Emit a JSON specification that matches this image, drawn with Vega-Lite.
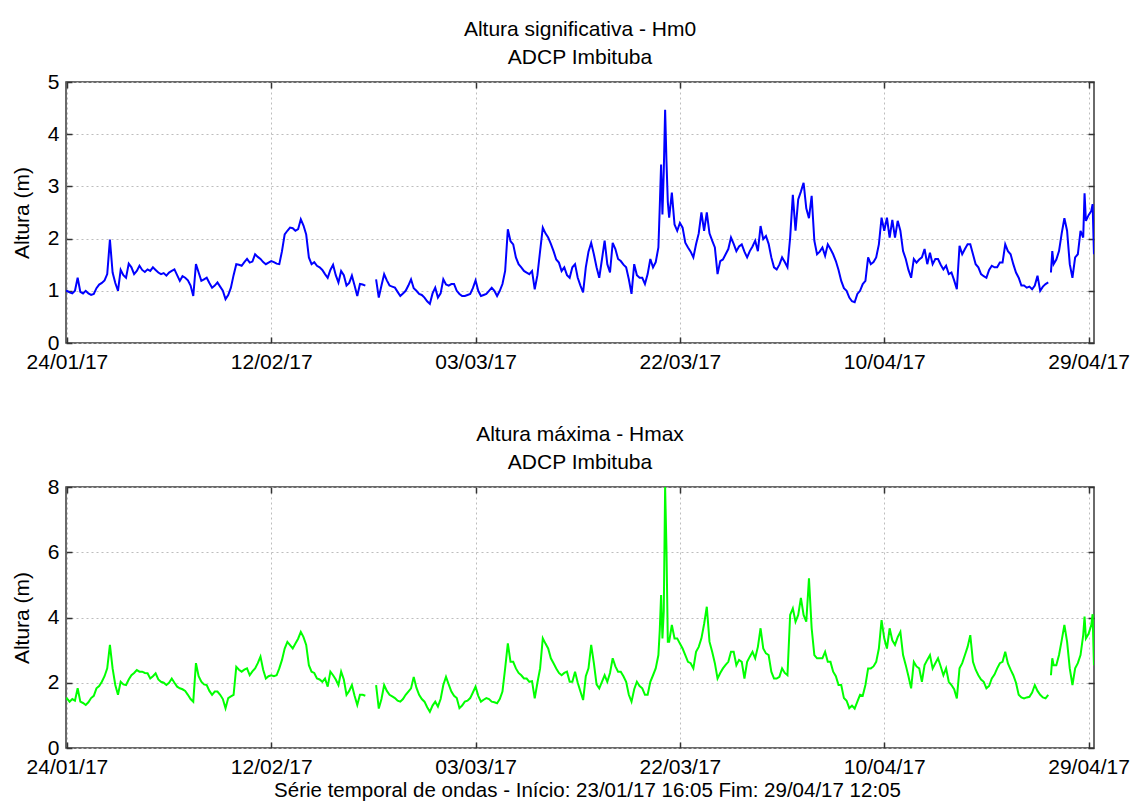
{
  "$schema": "https://vega.github.io/schema/vega-lite/v6.json",
  "background": "white",
  "padding": {"left": 10, "top": 18, "right": 5, "bottom": 5},
  "config": {
    "font": "Liberation Sans",
    "view": {"stroke": "#3a3a3a", "strokeWidth": 1.5},
    "axis": {
      "labelFontSize": 21, "titleFontSize": 21, "titleFontWeight": "normal",
      "labelColor": "#000000", "titleColor": "#000000",
      "gridColor": "#bdbdbd", "gridDash": [2, 3], "gridWidth": 1,
      "domain": false, "tickColor": "#333333", "tickSize": -6, "tickWidth": 1.5
    },
    "axisX": {"labelPadding": 14},
    "axisY": {"labelPadding": 13, "titlePadding": 15},
    "title": {"fontSize": 21, "fontWeight": "normal", "color": "#000000", "lineHeight": 28}
  },
  "data": {"values": [
    {"t":"2017-01-23T18:00","h":0.98,"m":1.5},
    {"t":"2017-01-24T00:00","h":1.0,"m":1.52},{"t":"2017-01-24T06:00","h":0.97,"m":1.42},{"t":"2017-01-24T12:00","h":0.95,"m":1.5},{"t":"2017-01-24T18:00","h":1.0,"m":1.45},
    {"t":"2017-01-25T00:00","h":1.25,"m":1.83},{"t":"2017-01-25T06:00","h":0.98,"m":1.42},{"t":"2017-01-25T12:00","h":0.95,"m":1.38},{"t":"2017-01-25T18:00","h":1.0,"m":1.32},
    {"t":"2017-01-26T00:00","h":0.95,"m":1.4},{"t":"2017-01-26T06:00","h":0.92,"m":1.53},{"t":"2017-01-26T12:00","h":0.94,"m":1.6},{"t":"2017-01-26T18:00","h":1.05,"m":1.83},
    {"t":"2017-01-27T00:00","h":1.12,"m":1.9},{"t":"2017-01-27T06:00","h":1.15,"m":2.03},{"t":"2017-01-27T12:00","h":1.2,"m":2.2},{"t":"2017-01-27T18:00","h":1.32,"m":2.44},
    {"t":"2017-01-28T00:00","h":1.98,"m":3.16},{"t":"2017-01-28T06:00","h":1.35,"m":2.44},{"t":"2017-01-28T12:00","h":1.15,"m":1.93},{"t":"2017-01-28T18:00","h":1.0,"m":1.63},
    {"t":"2017-01-29T00:00","h":1.4,"m":2.03},{"t":"2017-01-29T06:00","h":1.3,"m":1.95},{"t":"2017-01-29T12:00","h":1.25,"m":1.93},{"t":"2017-01-29T18:00","h":1.52,"m":2.1},
    {"t":"2017-01-30T00:00","h":1.45,"m":2.23},{"t":"2017-01-30T06:00","h":1.32,"m":2.3},{"t":"2017-01-30T12:00","h":1.38,"m":2.39},{"t":"2017-01-30T18:00","h":1.48,"m":2.34},
    {"t":"2017-01-31T00:00","h":1.4,"m":2.34},{"t":"2017-01-31T06:00","h":1.36,"m":2.3},{"t":"2017-01-31T12:00","h":1.41,"m":2.29},{"t":"2017-01-31T18:00","h":1.38,"m":2.13},
    {"t":"2017-02-01T00:00","h":1.45,"m":2.2},{"t":"2017-02-01T06:00","h":1.4,"m":2.29},{"t":"2017-02-01T12:00","h":1.35,"m":2.1},{"t":"2017-02-01T18:00","h":1.32,"m":2.03},
    {"t":"2017-02-02T00:00","h":1.34,"m":2.0},{"t":"2017-02-02T06:00","h":1.29,"m":1.93},{"t":"2017-02-02T12:00","h":1.35,"m":2.0},{"t":"2017-02-02T18:00","h":1.38,"m":2.13},
    {"t":"2017-02-03T00:00","h":1.41,"m":2.0},{"t":"2017-02-03T06:00","h":1.3,"m":1.88},{"t":"2017-02-03T12:00","h":1.19,"m":1.83},{"t":"2017-02-03T18:00","h":1.28,"m":1.8},
    {"t":"2017-02-04T00:00","h":1.25,"m":1.75},{"t":"2017-02-04T06:00","h":1.2,"m":1.63},{"t":"2017-02-04T12:00","h":1.1,"m":1.5},{"t":"2017-02-04T18:00","h":0.9,"m":1.42},
    {"t":"2017-02-05T00:00","h":1.51,"m":2.6},{"t":"2017-02-05T06:00","h":1.35,"m":2.2},{"t":"2017-02-05T12:00","h":1.19,"m":2.03},{"t":"2017-02-05T18:00","h":1.22,"m":1.95},
    {"t":"2017-02-06T00:00","h":1.25,"m":1.93},{"t":"2017-02-06T06:00","h":1.15,"m":1.75},{"t":"2017-02-06T12:00","h":1.06,"m":1.63},{"t":"2017-02-06T18:00","h":1.1,"m":1.73},
    {"t":"2017-02-07T00:00","h":1.16,"m":1.73},{"t":"2017-02-07T06:00","h":1.08,"m":1.63},{"t":"2017-02-07T12:00","h":1.0,"m":1.5},{"t":"2017-02-07T18:00","h":0.84,"m":1.22},
    {"t":"2017-02-08T00:00","h":0.92,"m":1.53},{"t":"2017-02-08T06:00","h":1.06,"m":1.58},{"t":"2017-02-08T12:00","h":1.3,"m":1.63},{"t":"2017-02-08T18:00","h":1.51,"m":2.49},
    {"t":"2017-02-09T00:00","h":1.5,"m":2.4},{"t":"2017-02-09T06:00","h":1.48,"m":2.34},{"t":"2017-02-09T12:00","h":1.55,"m":2.4},{"t":"2017-02-09T18:00","h":1.61,"m":2.44},
    {"t":"2017-02-10T00:00","h":1.54,"m":2.23},{"t":"2017-02-10T06:00","h":1.56,"m":2.35},{"t":"2017-02-10T12:00","h":1.7,"m":2.44},{"t":"2017-02-10T18:00","h":1.65,"m":2.6},
    {"t":"2017-02-11T00:00","h":1.61,"m":2.8},{"t":"2017-02-11T06:00","h":1.55,"m":2.4},{"t":"2017-02-11T12:00","h":1.51,"m":2.13},{"t":"2017-02-11T18:00","h":1.54,"m":2.2},
    {"t":"2017-02-12T00:00","h":1.57,"m":2.23},{"t":"2017-02-12T06:00","h":1.55,"m":2.2},{"t":"2017-02-12T12:00","h":1.52,"m":2.23},{"t":"2017-02-12T18:00","h":1.51,"m":2.44},
    {"t":"2017-02-13T00:00","h":1.76,"m":2.7},{"t":"2017-02-13T06:00","h":2.08,"m":3.05},{"t":"2017-02-13T12:00","h":2.15,"m":3.25},{"t":"2017-02-13T18:00","h":2.21,"m":3.15},
    {"t":"2017-02-14T00:00","h":2.2,"m":3.05},{"t":"2017-02-14T06:00","h":2.15,"m":3.2},{"t":"2017-02-14T12:00","h":2.18,"m":3.35},{"t":"2017-02-14T18:00","h":2.37,"m":3.56},
    {"t":"2017-02-15T00:00","h":2.25,"m":3.4},{"t":"2017-02-15T06:00","h":2.08,"m":3.16},{"t":"2017-02-15T12:00","h":1.64,"m":2.54},{"t":"2017-02-15T18:00","h":1.51,"m":2.34},
    {"t":"2017-02-16T00:00","h":1.55,"m":2.3},{"t":"2017-02-16T06:00","h":1.48,"m":2.13},{"t":"2017-02-16T12:00","h":1.45,"m":2.1},{"t":"2017-02-16T18:00","h":1.4,"m":2.03},
    {"t":"2017-02-17T00:00","h":1.32,"m":2.13},{"t":"2017-02-17T06:00","h":1.25,"m":1.88},{"t":"2017-02-17T12:00","h":1.4,"m":2.34},{"t":"2017-02-17T18:00","h":1.5,"m":2.23},
    {"t":"2017-02-18T00:00","h":1.3,"m":2.1},{"t":"2017-02-18T06:00","h":1.16,"m":1.93},{"t":"2017-02-18T12:00","h":1.38,"m":2.34},{"t":"2017-02-18T18:00","h":1.3,"m":2.1},
    {"t":"2017-02-19T00:00","h":1.1,"m":1.63},{"t":"2017-02-19T06:00","h":1.15,"m":1.75},{"t":"2017-02-19T12:00","h":1.29,"m":1.93},{"t":"2017-02-19T18:00","h":1.1,"m":1.6},
    {"t":"2017-02-20T00:00","h":0.9,"m":1.32},{"t":"2017-02-20T06:00","h":1.13,"m":1.63},{"t":"2017-02-20T12:00","h":1.12,"m":1.63},{"t":"2017-02-20T18:00","h":1.1,"m":1.6},
    {"t":"2017-02-21T00:00","h":null,"m":null},{"t":"2017-02-21T06:00","h":null,"m":null},{"t":"2017-02-21T12:00","h":null,"m":null},{"t":"2017-02-21T18:00","h":1.22,"m":1.93},
    {"t":"2017-02-22T00:00","h":0.87,"m":1.21},{"t":"2017-02-22T06:00","h":1.1,"m":1.5},{"t":"2017-02-22T12:00","h":1.32,"m":1.93},{"t":"2017-02-22T18:00","h":1.2,"m":1.75},
    {"t":"2017-02-23T00:00","h":1.1,"m":1.63},{"t":"2017-02-23T06:00","h":1.08,"m":1.58},{"t":"2017-02-23T12:00","h":1.06,"m":1.53},{"t":"2017-02-23T18:00","h":0.98,"m":1.45},
    {"t":"2017-02-24T00:00","h":0.9,"m":1.42},{"t":"2017-02-24T06:00","h":0.95,"m":1.5},{"t":"2017-02-24T12:00","h":1.0,"m":1.63},{"t":"2017-02-24T18:00","h":1.1,"m":1.73},
    {"t":"2017-02-25T00:00","h":1.22,"m":1.83},{"t":"2017-02-25T06:00","h":1.05,"m":2.18},{"t":"2017-02-25T12:00","h":1.0,"m":1.85},{"t":"2017-02-25T18:00","h":0.94,"m":1.63},
    {"t":"2017-02-26T00:00","h":0.92,"m":1.5},{"t":"2017-02-26T06:00","h":0.87,"m":1.42},{"t":"2017-02-26T12:00","h":0.8,"m":1.25},{"t":"2017-02-26T18:00","h":0.75,"m":1.11},
    {"t":"2017-02-27T00:00","h":0.95,"m":1.3},{"t":"2017-02-27T06:00","h":1.06,"m":1.42},{"t":"2017-02-27T12:00","h":0.87,"m":1.27},{"t":"2017-02-27T18:00","h":0.95,"m":1.5},
    {"t":"2017-02-28T00:00","h":1.22,"m":1.93},{"t":"2017-02-28T06:00","h":1.12,"m":2.18},{"t":"2017-02-28T12:00","h":1.1,"m":1.95},{"t":"2017-02-28T18:00","h":1.13,"m":1.73},
    {"t":"2017-03-01T00:00","h":1.13,"m":1.6},{"t":"2017-03-01T06:00","h":1.0,"m":1.53},{"t":"2017-03-01T12:00","h":0.94,"m":1.22},{"t":"2017-03-01T18:00","h":0.9,"m":1.3},
    {"t":"2017-03-02T00:00","h":0.9,"m":1.42},{"t":"2017-03-02T06:00","h":0.92,"m":1.45},{"t":"2017-03-02T12:00","h":0.94,"m":1.53},{"t":"2017-03-02T18:00","h":1.05,"m":1.7},
    {"t":"2017-03-03T00:00","h":1.2,"m":1.88},{"t":"2017-03-03T06:00","h":1.0,"m":1.6},{"t":"2017-03-03T12:00","h":0.9,"m":1.42},{"t":"2017-03-03T18:00","h":0.92,"m":1.48},
    {"t":"2017-03-04T00:00","h":0.94,"m":1.53},{"t":"2017-03-04T06:00","h":1.0,"m":1.5},{"t":"2017-03-04T12:00","h":1.06,"m":1.42},{"t":"2017-03-04T18:00","h":1.0,"m":1.4},
    {"t":"2017-03-05T00:00","h":0.9,"m":1.37},{"t":"2017-03-05T06:00","h":1.0,"m":1.5},{"t":"2017-03-05T12:00","h":1.13,"m":1.73},{"t":"2017-03-05T18:00","h":1.38,"m":2.44},
    {"t":"2017-03-06T00:00","h":2.18,"m":3.21},{"t":"2017-03-06T06:00","h":1.95,"m":2.64},{"t":"2017-03-06T12:00","h":1.89,"m":2.64},{"t":"2017-03-06T18:00","h":1.64,"m":2.44},
    {"t":"2017-03-07T00:00","h":1.51,"m":2.3},{"t":"2017-03-07T06:00","h":1.45,"m":2.23},{"t":"2017-03-07T12:00","h":1.38,"m":2.13},{"t":"2017-03-07T18:00","h":1.35,"m":2.13},
    {"t":"2017-03-08T00:00","h":1.32,"m":2.03},{"t":"2017-03-08T06:00","h":1.38,"m":2.05},{"t":"2017-03-08T12:00","h":1.03,"m":1.52},{"t":"2017-03-08T18:00","h":1.3,"m":2.0},
    {"t":"2017-03-09T00:00","h":1.76,"m":2.44},{"t":"2017-03-09T06:00","h":2.21,"m":3.36},{"t":"2017-03-09T12:00","h":2.1,"m":3.2},{"t":"2017-03-09T18:00","h":2.02,"m":3.05},
    {"t":"2017-03-10T00:00","h":1.9,"m":2.75},{"t":"2017-03-10T06:00","h":1.76,"m":2.6},{"t":"2017-03-10T12:00","h":1.6,"m":2.44},{"t":"2017-03-10T18:00","h":1.54,"m":2.3},
    {"t":"2017-03-11T00:00","h":1.38,"m":2.23},{"t":"2017-03-11T06:00","h":1.45,"m":2.3},{"t":"2017-03-11T12:00","h":1.3,"m":2.34},{"t":"2017-03-11T18:00","h":1.25,"m":2.03},
    {"t":"2017-03-12T00:00","h":1.45,"m":2.03},{"t":"2017-03-12T06:00","h":1.51,"m":2.34},{"t":"2017-03-12T12:00","h":1.25,"m":2.0},{"t":"2017-03-12T18:00","h":1.1,"m":1.73},
    {"t":"2017-03-13T00:00","h":0.97,"m":1.47},{"t":"2017-03-13T06:00","h":1.45,"m":2.2},{"t":"2017-03-13T12:00","h":1.75,"m":2.44},{"t":"2017-03-13T18:00","h":1.92,"m":3.16},
    {"t":"2017-03-14T00:00","h":1.7,"m":2.6},{"t":"2017-03-14T06:00","h":1.45,"m":1.95},{"t":"2017-03-14T12:00","h":1.25,"m":1.83},{"t":"2017-03-14T18:00","h":1.6,"m":2.03},
    {"t":"2017-03-15T00:00","h":1.96,"m":2.23},{"t":"2017-03-15T06:00","h":1.51,"m":2.03},{"t":"2017-03-15T12:00","h":1.35,"m":2.3},{"t":"2017-03-15T18:00","h":1.92,"m":2.75},
    {"t":"2017-03-16T00:00","h":1.8,"m":2.5},{"t":"2017-03-16T06:00","h":1.61,"m":2.34},{"t":"2017-03-16T12:00","h":1.57,"m":2.34},{"t":"2017-03-16T18:00","h":1.5,"m":2.2},
    {"t":"2017-03-17T00:00","h":1.45,"m":2.03},{"t":"2017-03-17T06:00","h":1.22,"m":1.63},{"t":"2017-03-17T12:00","h":0.94,"m":1.42},{"t":"2017-03-17T18:00","h":1.51,"m":1.8},
    {"t":"2017-03-18T00:00","h":1.3,"m":2.03},{"t":"2017-03-18T06:00","h":1.25,"m":1.9},{"t":"2017-03-18T12:00","h":1.25,"m":1.83},{"t":"2017-03-18T18:00","h":1.13,"m":1.63},
    {"t":"2017-03-19T00:00","h":1.32,"m":1.63},{"t":"2017-03-19T06:00","h":1.61,"m":2.03},{"t":"2017-03-19T12:00","h":1.45,"m":2.23},{"t":"2017-03-19T18:00","h":1.55,"m":2.44},
    {"t":"2017-03-20T00:00","h":1.83,"m":2.85},{"t":"2017-03-20T03:00","h":2.6,"m":3.6},{"t":"2017-03-20T06:00","h":3.42,"m":4.69},{"t":"2017-03-20T09:00","h":2.46,"m":3.36},
    {"t":"2017-03-20T12:00","h":3.3,"m":4.2},{"t":"2017-03-20T15:00","h":4.47,"m":8.0},{"t":"2017-03-20T18:00","h":3.48,"m":6.1},{"t":"2017-03-20T21:00","h":2.7,"m":3.26},
    {"t":"2017-03-21T00:00","h":2.4,"m":3.26},{"t":"2017-03-21T06:00","h":2.88,"m":3.77},{"t":"2017-03-21T12:00","h":2.27,"m":3.36},{"t":"2017-03-21T18:00","h":2.15,"m":3.36},
    {"t":"2017-03-22T00:00","h":2.3,"m":3.2},{"t":"2017-03-22T06:00","h":2.21,"m":3.05},{"t":"2017-03-22T12:00","h":1.92,"m":2.85},{"t":"2017-03-22T18:00","h":1.83,"m":2.64},
    {"t":"2017-03-23T00:00","h":1.75,"m":2.6},{"t":"2017-03-23T06:00","h":1.64,"m":2.44},{"t":"2017-03-23T12:00","h":1.89,"m":2.95},{"t":"2017-03-23T18:00","h":2.1,"m":3.1},
    {"t":"2017-03-24T00:00","h":2.5,"m":3.36},{"t":"2017-03-24T06:00","h":2.15,"m":3.8},{"t":"2017-03-24T12:00","h":2.5,"m":4.33},{"t":"2017-03-24T18:00","h":2.1,"m":3.26},
    {"t":"2017-03-25T00:00","h":1.96,"m":2.95},{"t":"2017-03-25T06:00","h":1.83,"m":2.6},{"t":"2017-03-25T12:00","h":1.32,"m":2.13},{"t":"2017-03-25T18:00","h":1.57,"m":2.3},
    {"t":"2017-03-26T00:00","h":1.6,"m":2.44},{"t":"2017-03-26T06:00","h":1.7,"m":2.55},{"t":"2017-03-26T12:00","h":1.8,"m":2.64},{"t":"2017-03-26T18:00","h":2.02,"m":2.95},
    {"t":"2017-03-27T00:00","h":1.9,"m":2.95},{"t":"2017-03-27T06:00","h":1.76,"m":2.54},{"t":"2017-03-27T12:00","h":1.85,"m":2.7},{"t":"2017-03-27T18:00","h":1.89,"m":2.64},
    {"t":"2017-03-28T00:00","h":1.75,"m":2.13},{"t":"2017-03-28T06:00","h":1.64,"m":2.64},{"t":"2017-03-28T12:00","h":1.76,"m":2.8},{"t":"2017-03-28T18:00","h":1.85,"m":2.95},
    {"t":"2017-03-29T00:00","h":1.96,"m":2.75},{"t":"2017-03-29T06:00","h":1.76,"m":3.1},{"t":"2017-03-29T12:00","h":2.24,"m":3.67},{"t":"2017-03-29T18:00","h":1.99,"m":3.05},
    {"t":"2017-03-30T00:00","h":2.05,"m":2.9},{"t":"2017-03-30T06:00","h":1.9,"m":2.85},{"t":"2017-03-30T12:00","h":1.64,"m":2.34},{"t":"2017-03-30T18:00","h":1.45,"m":2.13},
    {"t":"2017-03-31T00:00","h":1.41,"m":2.13},{"t":"2017-03-31T06:00","h":1.5,"m":2.18},{"t":"2017-03-31T12:00","h":1.64,"m":2.44},{"t":"2017-03-31T18:00","h":1.55,"m":2.3},
    {"t":"2017-04-01T00:00","h":1.45,"m":2.23},{"t":"2017-04-01T06:00","h":2.02,"m":4.08},{"t":"2017-04-01T12:00","h":2.84,"m":4.28},{"t":"2017-04-01T18:00","h":2.15,"m":3.87},
    {"t":"2017-04-02T00:00","h":2.75,"m":4.08},{"t":"2017-04-02T06:00","h":2.9,"m":4.6},{"t":"2017-04-02T12:00","h":3.07,"m":4.08},{"t":"2017-04-02T18:00","h":2.58,"m":3.87},
    {"t":"2017-04-03T00:00","h":2.39,"m":5.2},{"t":"2017-04-03T06:00","h":2.82,"m":3.67},{"t":"2017-04-03T12:00","h":1.96,"m":2.85},{"t":"2017-04-03T18:00","h":1.7,"m":2.75},
    {"t":"2017-04-04T00:00","h":1.75,"m":2.75},{"t":"2017-04-04T06:00","h":1.83,"m":2.75},{"t":"2017-04-04T12:00","h":1.67,"m":2.95},{"t":"2017-04-04T18:00","h":1.89,"m":2.64},
    {"t":"2017-04-05T00:00","h":1.8,"m":2.64},{"t":"2017-04-05T06:00","h":1.7,"m":2.34},{"t":"2017-04-05T12:00","h":1.57,"m":2.2},{"t":"2017-04-05T18:00","h":1.4,"m":1.93},
    {"t":"2017-04-06T00:00","h":1.19,"m":1.93},{"t":"2017-04-06T06:00","h":1.05,"m":1.53},{"t":"2017-04-06T12:00","h":1.0,"m":1.45},{"t":"2017-04-06T18:00","h":0.87,"m":1.22},
    {"t":"2017-04-07T00:00","h":0.8,"m":1.3},{"t":"2017-04-07T06:00","h":0.78,"m":1.21},{"t":"2017-04-07T12:00","h":0.94,"m":1.42},{"t":"2017-04-07T18:00","h":1.0,"m":1.63},
    {"t":"2017-04-08T00:00","h":1.13,"m":1.6},{"t":"2017-04-08T06:00","h":1.19,"m":1.93},{"t":"2017-04-08T12:00","h":1.64,"m":2.44},{"t":"2017-04-08T18:00","h":1.51,"m":2.44},
    {"t":"2017-04-09T00:00","h":1.55,"m":2.5},{"t":"2017-04-09T06:00","h":1.64,"m":2.64},{"t":"2017-04-09T12:00","h":1.89,"m":3.05},{"t":"2017-04-09T18:00","h":2.4,"m":3.92},
    {"t":"2017-04-10T00:00","h":2.15,"m":3.36},{"t":"2017-04-10T06:00","h":2.4,"m":3.05},{"t":"2017-04-10T12:00","h":2.02,"m":3.67},{"t":"2017-04-10T18:00","h":2.36,"m":3.3},
    {"t":"2017-04-11T00:00","h":2.02,"m":3.16},{"t":"2017-04-11T06:00","h":2.34,"m":3.4},{"t":"2017-04-11T12:00","h":2.15,"m":3.56},{"t":"2017-04-11T18:00","h":1.76,"m":2.85},
    {"t":"2017-04-12T00:00","h":1.61,"m":2.54},{"t":"2017-04-12T06:00","h":1.4,"m":2.2},{"t":"2017-04-12T12:00","h":1.25,"m":1.83},{"t":"2017-04-12T18:00","h":1.61,"m":2.64},
    {"t":"2017-04-13T00:00","h":1.54,"m":2.5},{"t":"2017-04-13T06:00","h":1.6,"m":2.44},{"t":"2017-04-13T12:00","h":1.64,"m":2.03},{"t":"2017-04-13T18:00","h":1.8,"m":2.54},
    {"t":"2017-04-14T00:00","h":1.51,"m":2.7},{"t":"2017-04-14T06:00","h":1.73,"m":2.85},{"t":"2017-04-14T12:00","h":1.51,"m":2.44},{"t":"2017-04-14T18:00","h":1.61,"m":2.6},
    {"t":"2017-04-15T00:00","h":1.61,"m":2.75},{"t":"2017-04-15T06:00","h":1.5,"m":2.5},{"t":"2017-04-15T12:00","h":1.41,"m":2.23},{"t":"2017-04-15T18:00","h":1.48,"m":2.44},
    {"t":"2017-04-16T00:00","h":1.32,"m":2.03},{"t":"2017-04-16T06:00","h":1.35,"m":1.93},{"t":"2017-04-16T12:00","h":1.2,"m":1.8},{"t":"2017-04-16T18:00","h":1.03,"m":1.52},
    {"t":"2017-04-17T00:00","h":1.86,"m":2.44},{"t":"2017-04-17T06:00","h":1.7,"m":2.6},{"t":"2017-04-17T12:00","h":1.8,"m":2.85},{"t":"2017-04-17T18:00","h":1.89,"m":3.1},
    {"t":"2017-04-18T00:00","h":1.89,"m":3.46},{"t":"2017-04-18T06:00","h":1.7,"m":2.64},{"t":"2017-04-18T12:00","h":1.51,"m":2.4},{"t":"2017-04-18T18:00","h":1.45,"m":2.23},
    {"t":"2017-04-19T00:00","h":1.32,"m":2.1},{"t":"2017-04-19T06:00","h":1.28,"m":2.03},{"t":"2017-04-19T12:00","h":1.25,"m":1.83},{"t":"2017-04-19T18:00","h":1.4,"m":1.9},
    {"t":"2017-04-20T00:00","h":1.48,"m":2.13},{"t":"2017-04-20T06:00","h":1.45,"m":2.25},{"t":"2017-04-20T12:00","h":1.45,"m":2.44},{"t":"2017-04-20T18:00","h":1.54,"m":2.6},
    {"t":"2017-04-21T00:00","h":1.54,"m":2.64},{"t":"2017-04-21T06:00","h":1.89,"m":2.95},{"t":"2017-04-21T12:00","h":1.76,"m":2.59},{"t":"2017-04-21T18:00","h":1.7,"m":2.4},
    {"t":"2017-04-22T00:00","h":1.51,"m":2.23},{"t":"2017-04-22T06:00","h":1.35,"m":2.0},{"t":"2017-04-22T12:00","h":1.25,"m":1.63},{"t":"2017-04-22T18:00","h":1.1,"m":1.55},
    {"t":"2017-04-23T00:00","h":1.1,"m":1.52},{"t":"2017-04-23T06:00","h":1.06,"m":1.55},{"t":"2017-04-23T12:00","h":1.08,"m":1.57},{"t":"2017-04-23T18:00","h":1.03,"m":1.7},
    {"t":"2017-04-24T00:00","h":1.1,"m":1.93},{"t":"2017-04-24T06:00","h":1.29,"m":1.75},{"t":"2017-04-24T12:00","h":1.0,"m":1.63},{"t":"2017-04-24T18:00","h":1.08,"m":1.55},
    {"t":"2017-04-25T00:00","h":1.13,"m":1.52},{"t":"2017-04-25T06:00","h":1.16,"m":1.63},{"t":"2017-04-25T09:00","h":null,"m":null},{"t":"2017-04-25T12:00","h":1.35,"m":2.23},{"t":"2017-04-25T15:00","h":1.76,"m":2.75},{"t":"2017-04-25T18:00","h":1.51,"m":2.54},
    {"t":"2017-04-26T00:00","h":1.6,"m":2.54},{"t":"2017-04-26T06:00","h":1.76,"m":2.85},{"t":"2017-04-26T12:00","h":2.1,"m":3.3},{"t":"2017-04-26T18:00","h":2.39,"m":3.77},
    {"t":"2017-04-27T00:00","h":2.15,"m":3.26},{"t":"2017-04-27T06:00","h":1.51,"m":2.44},{"t":"2017-04-27T12:00","h":1.25,"m":1.93},{"t":"2017-04-27T18:00","h":1.64,"m":2.44},
    {"t":"2017-04-28T00:00","h":1.7,"m":2.6},{"t":"2017-04-28T06:00","h":2.15,"m":2.85},{"t":"2017-04-28T12:00","h":2.02,"m":3.46},{"t":"2017-04-28T15:00","h":2.87,"m":4.03},{"t":"2017-04-28T18:00","h":2.34,"m":3.36},
    {"t":"2017-04-29T00:00","h":2.45,"m":3.5},{"t":"2017-04-29T06:00","h":2.53,"m":3.77},{"t":"2017-04-29T09:00","h":2.66,"m":4.1},{"t":"2017-04-29T12:00","h":1.7,"m":2.54}
  ]},
  "spacing": 50,
  "vconcat": [
    {
      "width": 1028,
      "height": 261,
      "title": {"text": ["Altura significativa - Hm0", "ADCP Imbituba"], "anchor": "middle", "offset": 3},
      "resolve": {"axis": {"x": "independent", "y": "independent"}},
      "layer": [
        {
          "mark": {"type": "line", "color": "#0000ff", "strokeWidth": 2, "clip": true},
          "encoding": {
            "x": {
              "field": "t", "type": "temporal",
              "scale": {"domain": [{"year": 2017, "month": 1, "date": 23, "hours": 22}, {"year": 2017, "month": 4, "date": 29, "hours": 12, "minutes": 5}]},
              "axis": {
                "orient": "bottom", "title": null, "format": "%d/%m/%y", "labelFlush": false, "labelOverlap": false, "labelBound": false,
                "values": [{"year": 2017, "month": 1, "date": 24}, {"year": 2017, "month": 2, "date": 12}, {"year": 2017, "month": 3, "date": 3}, {"year": 2017, "month": 3, "date": 22}, {"year": 2017, "month": 4, "date": 10}, {"year": 2017, "month": 4, "date": 29}]
              }
            },
            "y": {
              "field": "h", "type": "quantitative",
              "scale": {"domain": [0, 5], "nice": false},
              "axis": {"orient": "left", "title": "Altura (m)", "values": [0, 1, 2, 3, 4, 5]}
            }
          }
        },
        {
          "mark": {"type": "line", "strokeOpacity": 0, "clip": true},
          "encoding": {
            "x": {
              "field": "t", "type": "temporal",
              "axis": {
                "orient": "top", "title": null, "labels": false, "grid": false,
                "values": [{"year": 2017, "month": 1, "date": 24}, {"year": 2017, "month": 2, "date": 12}, {"year": 2017, "month": 3, "date": 3}, {"year": 2017, "month": 3, "date": 22}, {"year": 2017, "month": 4, "date": 10}, {"year": 2017, "month": 4, "date": 29}]
              }
            },
            "y": {
              "field": "h", "type": "quantitative",
              "axis": {"orient": "right", "title": null, "labels": false, "grid": false, "values": [0, 1, 2, 3, 4, 5]}
            }
          }
        }
      ]
    },
    {
      "width": 1028,
      "height": 261,
      "title": {"text": ["Altura máxima - Hmax", "ADCP Imbituba"], "anchor": "middle", "offset": 3},
      "resolve": {"axis": {"x": "independent", "y": "independent"}},
      "layer": [
        {
          "mark": {"type": "line", "color": "#00ff00", "strokeWidth": 2, "clip": true},
          "encoding": {
            "x": {
              "field": "t", "type": "temporal",
              "scale": {"domain": [{"year": 2017, "month": 1, "date": 23, "hours": 22}, {"year": 2017, "month": 4, "date": 29, "hours": 12, "minutes": 5}]},
              "axis": {
                "orient": "bottom",
                "title": "Série temporal de ondas - Início: 23/01/17 16:05  Fim: 29/04/17 12:05", "titleFontSize": 20.5, "titlePadding": 3, "titleX": 521, "titleAlign": "center",
                "format": "%d/%m/%y", "labelFlush": false, "labelOverlap": false, "labelBound": false,
                "values": [{"year": 2017, "month": 1, "date": 24}, {"year": 2017, "month": 2, "date": 12}, {"year": 2017, "month": 3, "date": 3}, {"year": 2017, "month": 3, "date": 22}, {"year": 2017, "month": 4, "date": 10}, {"year": 2017, "month": 4, "date": 29}]
              }
            },
            "y": {
              "field": "m", "type": "quantitative",
              "scale": {"domain": [0, 8], "nice": false},
              "axis": {"orient": "left", "title": "Altura (m)", "values": [0, 2, 4, 6, 8]}
            }
          }
        },
        {
          "mark": {"type": "line", "strokeOpacity": 0, "clip": true},
          "encoding": {
            "x": {
              "field": "t", "type": "temporal",
              "axis": {
                "orient": "top", "title": null, "labels": false, "grid": false,
                "values": [{"year": 2017, "month": 1, "date": 24}, {"year": 2017, "month": 2, "date": 12}, {"year": 2017, "month": 3, "date": 3}, {"year": 2017, "month": 3, "date": 22}, {"year": 2017, "month": 4, "date": 10}, {"year": 2017, "month": 4, "date": 29}]
              }
            },
            "y": {
              "field": "m", "type": "quantitative",
              "axis": {"orient": "right", "title": null, "labels": false, "grid": false, "values": [0, 2, 4, 6, 8]}
            }
          }
        }
      ]
    }
  ]
}
